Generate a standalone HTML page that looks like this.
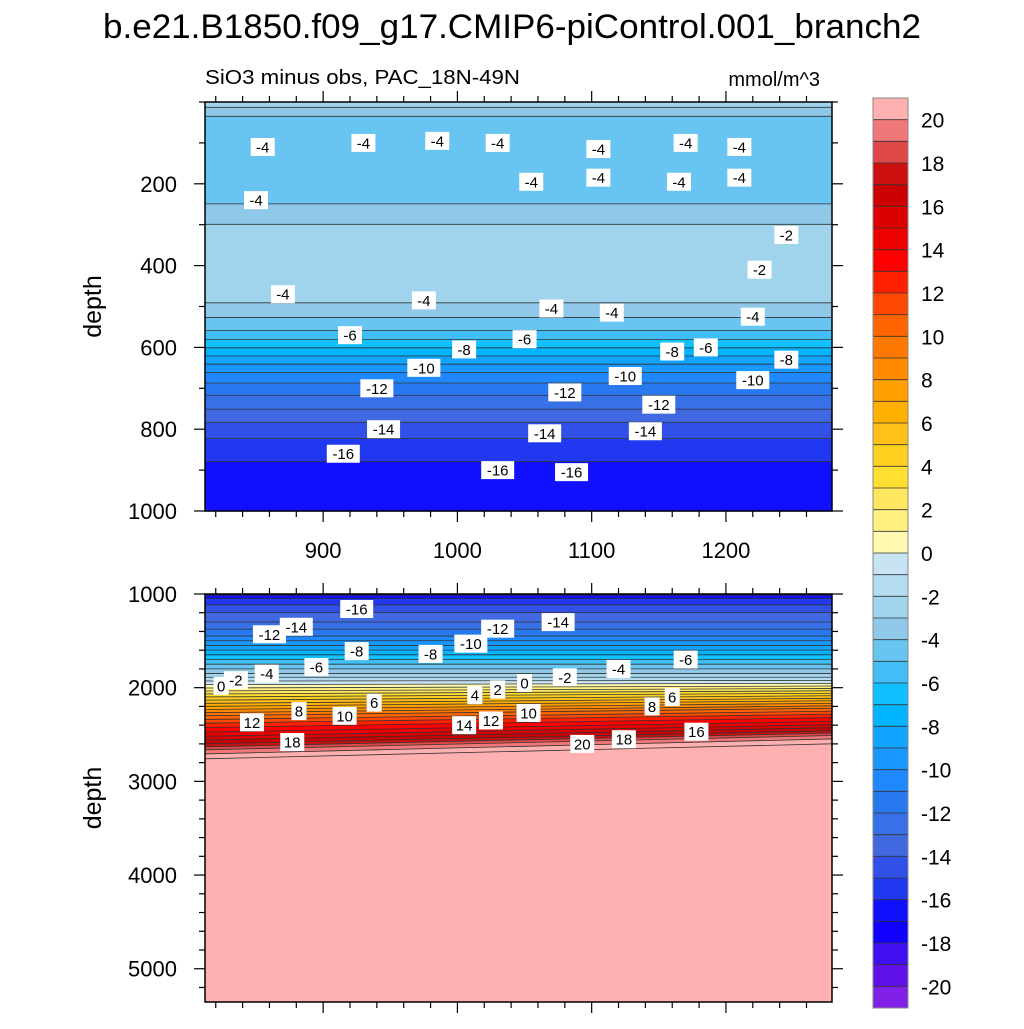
<!DOCTYPE html>
<html><head><meta charset="utf-8">
<style>
html,body{margin:0;padding:0;background:#fff;}
svg text{font-family:"Liberation Sans",sans-serif;}
</style></head>
<body>
<svg id="chart" width="1024" height="1024" viewBox="0 0 1024 1024" xmlns="http://www.w3.org/2000/svg">
<rect width="1024" height="1024" fill="#fff"/>
<text x="512" y="38" font-size="34" text-anchor="middle" textLength="818" lengthAdjust="spacingAndGlyphs">b.e21.B1850.f09_g17.CMIP6-piControl.001_branch2</text>
<text x="205" y="84" font-size="20" textLength="315" lengthAdjust="spacingAndGlyphs">SiO3 minus obs, PAC_18N-49N</text>
<text x="820" y="86" font-size="20" text-anchor="end">mmol/m^3</text>
<g id="topPanel"></g>
<g id="botPanel"></g>
<g id="cbar"></g>
</svg>
<script>
// ---- data ----
const colors = ["#ffb0b0","#f07878","#e04848","#cc1010","#cc0000","#dd0000","#ee0000","#ff0000","#ff2000","#ff4800","#ff6400","#ff7800","#ff8a00","#ffa000","#ffb000","#ffc018","#ffd020","#ffe030","#ffe860","#fff080","#fffab0",
"#c8e4f4","#b4dcf0","#a0d4ec","#90c8ea","#68c4f0","#40bef5","#10c0ff","#00b4ff","#10a4ff","#1898ff","#2088ff","#2878f0","#3870e8","#4068e0","#3050e8","#2038f0","#1010ff","#1000ff","#4010f0","#6010e8","#8020e8"];
const cbarLabels = [20,18,16,14,12,10,8,6,4,2,0,-2,-4,-6,-8,-10,-12,-14,-16,-18,-20];
const topDepths = [0,12,18,40,60,120,160,200,240,270,300,330,450,490,520,550,580,620,660,700,750,800,850,900,950,1000];
const topValues = [-2.5,-2.9,-3.3,-4.2,-4.6,-4.9,-5.0,-4.8,-4.2,-3.6,-3.0,-2.6,-2.6,-3.0,-3.8,-4.6,-6,-8,-10,-11.5,-13,-14.5,-15.6,-16.3,-16.8,-17];
const botDepths = [1000,1050,1150,1300,1450,1550,1650,1750,1850,1950,2020,2100,2200,2300,2400,2500,2600,2680,2760,5400];
const botValues = [-17.5,-16,-14.5,-13,-11,-9,-7,-5,-3,-0.5,1.5,4,7,10,12.5,14.5,17,19.5,21,21.5];
const shiftDepths = [1000,1900,2700,5400];
const shiftValues = [0,0,160,160];
const xTicks = [900,1000,1100,1200];
const topYTicks = [200,400,600,800,1000];
const botYTicks = [1000,2000,3000,4000,5000];
const topLabels = [[855,110,"-4"],[930,100,"-4"],[985,95,"-4"],[1030,100,"-4"],[1105,115,"-4"],[1170,100,"-4"],[1210,110,"-4"],[1055,195,"-4"],[1105,185,"-4"],[1165,195,"-4"],[1210,185,"-4"],[850,240,"-4"],[1245,325,"-2"],[1225,410,"-2"],[870,470,"-4"],[975,485,"-4"],[1070,505,"-4"],[1115,515,"-4"],[1220,525,"-4"],[920,570,"-6"],[1050,580,"-6"],[1005,605,"-8"],[1160,610,"-8"],[1185,600,"-6"],[1245,630,"-8"],[975,650,"-10"],[1125,670,"-10"],[1220,680,"-10"],[940,700,"-12"],[1080,710,"-12"],[1150,740,"-12"],[945,800,"-14"],[1065,810,"-14"],[1140,805,"-14"],[915,860,"-16"],[1030,900,"-16"],[1085,905,"-16"]];
const botLabels = [[925,1160,"-16"],[880,1350,"-14"],[860,1430,"-12"],[1030,1370,"-12"],[1075,1300,"-14"],[1010,1530,"-10"],[980,1640,"-8"],[925,1610,"-8"],[895,1780,"-6"],[1170,1700,"-6"],[858,1850,"-4"],[1120,1800,"-4"],[1080,1890,"-2"],[835,1920,"-2"],[824,1980,"0"],[1050,1950,"0"],[1030,2020,"2"],[1013,2080,"4"],[938,2160,"6"],[1160,2100,"6"],[1145,2200,"8"],[882,2250,"8"],[916,2300,"10"],[1053,2270,"10"],[847,2370,"12"],[1025,2350,"12"],[1005,2400,"14"],[1178,2470,"16"],[1124,2550,"18"],[1093,2600,"20"],[877,2580,"18"]];

// ---- axes ----
const X0=205, X1=832, XMIN=812, XMAX=1279;
const sx = v => X0 + (v-XMIN)/(XMAX-XMIN)*(X1-X0);
const TY0=102, TY1=511, sTop = d => TY0 + d/1000*(TY1-TY0);
const BY0=594, BY1=1002, BMAX=5355, sBot = d => BY0 + (d-1000)/(BMAX-1000)*(BY1-BY0);
const NS="http://www.w3.org/2000/svg";
function mk(tag, attrs, parent){const e=document.createElementNS(NS,tag);for(const k in attrs)e.setAttribute(k,attrs[k]);parent.appendChild(e);return e;}
function interp(xs, ys, x){ if(x<=xs[0])return ys[0]; for(let i=1;i<xs.length;i++){ if(x<=xs[i]){const t=(x-xs[i-1])/(xs[i]-xs[i-1]);return ys[i-1]+t*(ys[i]-ys[i-1]);} } return ys[ys.length-1]; }
function colorOf(v){ let i=20-Math.floor(v); i=Math.max(0,Math.min(41,i)); return colors[i]; }

// ---- top panel ----
const topG=document.getElementById('topPanel');
const step=4;
for(let d=0; d<1000; d+=step){
  const v=interp(topDepths,topValues,d+step/2);
  const r=mk('rect',{x:X0,y:sTop(d),width:X1-X0,height:sTop(d+step)-sTop(d)+0.6,fill:colorOf(v)},topG);
  
  
}
for(let d=0; d<1000; d+=2){
  const a=interp(topDepths,topValues,d), b=interp(topDepths,topValues,d+2);
  if(Math.floor(a)!==Math.floor(b)){
    const y=sTop(d+1);
    const l=mk('line',{x1:X0,x2:X1,y1:y,y2:y,stroke:'#333',"stroke-width":0.8},topG);
    
    
  }
}
// ---- bottom panel ----
const botG=document.getElementById('botPanel');
const bstep=10;
for(let d=1000; d<BMAX+200; d+=bstep){
  const v=interp(botDepths,botValues,d+bstep/2);
  const s1=interp(shiftDepths,shiftValues,d), s2=interp(shiftDepths,shiftValues,d+bstep);
  const pts=[[X0,sBot(d)],[X1,sBot(d-s1)],[X1,sBot(d+bstep-s2)+0.6],[X0,sBot(d+bstep)+0.6]].map(p=>p.join(',')).join(' ');
  const p=mk('polygon',{points:pts,fill:colorOf(v)},botG);
  
  
}
for(let d=1000; d<2800; d+=2){
  const a=interp(botDepths,botValues,d), b=interp(botDepths,botValues,d+2);
  if(Math.floor(a)!==Math.floor(b)){
    const s=interp(shiftDepths,shiftValues,d+1);
    const l=mk('line',{x1:X0,x2:X1,y1:sBot(d+1),y2:sBot(d+1-s),stroke:'#333',"stroke-width":0.8},botG);
    
    
  }
}
mk('rect',{x:X0,y:BY1+0.5,width:X1-X0,height:30,fill:'#fff'},botG);
mk('rect',{x:X0,y:BY0-20,width:X1-X0,height:20,fill:'#fff'},botG);

function labels(g, list, sy, name){
  list.forEach(([yr,d,t])=>{
    const x=sx(yr), y=sy(d);
    const w=t.length*9+6;
    const r=mk('rect',{x:x-w/2,y:y-9,width:w,height:18,fill:'#fff'},g);
    
    
    const tx=mk('text',{x:x,y:y+5.5,"font-size":15,"text-anchor":"middle"},g);
    tx.textContent=t;
    
    
  });
}
labels(topG, topLabels, sTop, 'top-contour-label');
labels(botG, botLabels, sBot, 'bottom-contour-label');

function frame(g, y0, y1, yTicks, sy, minorStep, ymin, ymax, showX, name){
  const f=mk('rect',{x:X0,y:y0,width:X1-X0,height:y1-y0,fill:'none',stroke:'#000',"stroke-width":1.5},g);
  
  
  for(let v=820; v<=XMAX; v+=20){
    const major = v%100===0, L= major?11:6, x=sx(v);
    mk('line',{x1:x,x2:x,y1:y1,y2:y1+L,stroke:'#000',"stroke-width":1.2},g);
    mk('line',{x1:x,x2:x,y1:y0,y2:y0-L,stroke:'#000',"stroke-width":1.2},g);
  }
  if(showX) xTicks.forEach(v=>{
    const t=mk('text',{x:sx(v),y:y1+47,"font-size":22,"text-anchor":"middle"},g);
    t.textContent=v;
    
    
  });
  for(let v=ymin; v<=ymax; v+=minorStep){
    const y=sy(v); if(y<y0-0.5||y>y1+0.5) continue;
    const major = yTicks.includes(v), L= major?11:6;
    mk('line',{x1:X0,x2:X0-L,y1:y,y2:y,stroke:'#000',"stroke-width":1.2},g);
    mk('line',{x1:X1,x2:X1+L,y1:y,y2:y,stroke:'#000',"stroke-width":1.2},g);
  }
  yTicks.forEach(v=>{
    const t=mk('text',{x:X0-28,y:sy(v)+8,"font-size":22,"text-anchor":"end"},g);
    t.textContent=v;
    
    
  });
  const yl=mk('text',{x:0,y:0,"font-size":25,"text-anchor":"middle",transform:`translate(101,${(y0+y1)/2}) rotate(-90)`},g);
  yl.textContent='depth';
  
  
}
frame(topG, TY0, TY1, topYTicks, sTop, 100, 0, 1000, true, 'top-panel');
frame(botG, BY0, BY1, botYTicks, sBot, 200, 1000, 5400, false, 'bottom-panel');

// ---- colorbar ----
const cb=document.getElementById('cbar');
const CX=873, CW=35, CY0=98, CY1=1008, bh=(CY1-CY0)/42;
colors.forEach((c,i)=>{
  const r=mk('rect',{x:CX,y:CY0+i*bh,width:CW,height:bh+0.3,fill:c},cb);
  
  
  if(i>0) mk('line',{x1:CX,x2:CX+CW,y1:CY0+i*bh,y2:CY0+i*bh,stroke:'#333',"stroke-width":0.8},cb);
});
mk('rect',{x:CX,y:CY0,width:CW,height:CY1-CY0,fill:'none',stroke:'#888',"stroke-width":1},cb);
cbarLabels.forEach(v=>{
  const y=CY0+(21-v)*bh;
  const t=mk('text',{x:921,y:y+8,"font-size":21},cb);
  t.textContent=v;
  
  
});
</script>
</body></html>
